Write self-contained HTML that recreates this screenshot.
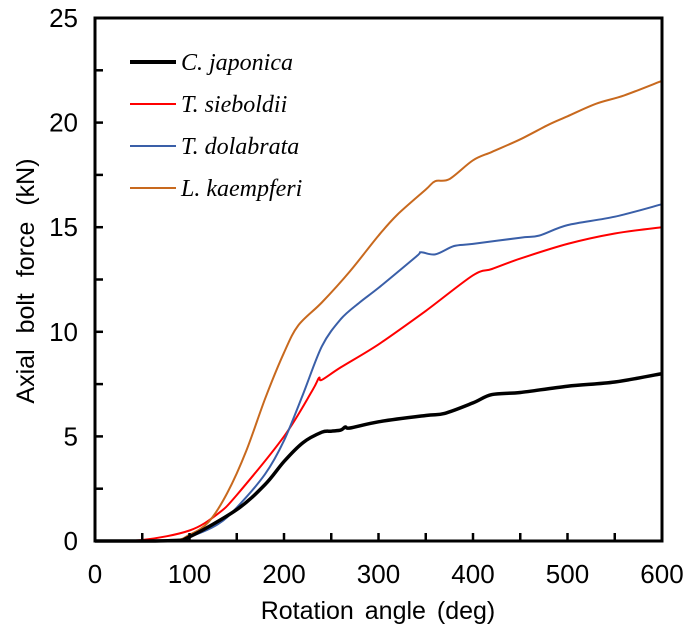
<!DOCTYPE html>
<html><head><meta charset="utf-8"><style>
body{margin:0;background:#fff;width:685px;height:634px;overflow:hidden}
svg text{font-family:"Liberation Sans",sans-serif}
</style></head><body>
<svg id="chart" width="685" height="634" xmlns="http://www.w3.org/2000/svg">
<g id="marks"></g>
<g id="axes"></g>
<text x="378" y="619" font-size="25" text-anchor="middle" word-spacing="4">Rotation angle (deg)</text>
<text transform="translate(34,281) rotate(-90)" font-size="25" text-anchor="middle" word-spacing="9">Axial bolt force (kN)</text>
<g font-size="24" font-style="italic">
<g><line x1="130" y1="62" x2="176" y2="62" stroke="#000" stroke-width="4"/><text x="181" y="70" style="font-family:'Liberation Serif',serif">C. japonica</text></g>
<g><line x1="130" y1="104" x2="176" y2="104" stroke="#ff0000" stroke-width="2"/><text x="181" y="112" style="font-family:'Liberation Serif',serif">T. sieboldii</text></g>
<g><line x1="130" y1="146" x2="176" y2="146" stroke="#3a5fa8" stroke-width="2"/><text x="181" y="154" style="font-family:'Liberation Serif',serif">T. dolabrata</text></g>
<g><line x1="130" y1="188" x2="176" y2="188" stroke="#c8691e" stroke-width="2"/><text x="181" y="196" style="font-family:'Liberation Serif',serif">L. kaempferi</text></g>
</g>
</svg>
<script>
const xTicks=[0,100,200,300,400,500,600];
const yTicks=[0,5,10,15,20,25];
const angleCJ=[0,80,100,150,180,200,220,240,250,260,265,270,300,350,370,400,420,450,500,550,600];
const forceCJ=[0,0.02,0.2,1.5,2.7,3.8,4.7,5.2,5.25,5.3,5.45,5.4,5.7,6.0,6.1,6.6,7.0,7.1,7.4,7.6,8.0];
const angleTS=[0,50,100,130,150,200,230,237,240,260,300,350,400,420,450,500,550,600];
const forceTS=[0,0.05,0.5,1.3,2.2,5.0,7.2,7.8,7.7,8.3,9.4,11.0,12.7,13.0,13.5,14.2,14.7,15.0];
const angleTD=[0,80,100,130,150,180,200,220,240,260,280,300,340,345,360,380,400,450,470,500,550,600];
const forceTD=[0,0.02,0.2,0.8,1.6,3.2,4.8,7.0,9.3,10.6,11.4,12.1,13.6,13.8,13.7,14.1,14.2,14.5,14.6,15.1,15.5,16.1];
const angleLK=[0,80,100,120,140,160,180,200,215,240,270,300,320,350,360,375,400,420,450,480,500,530,560,600];
const forceLK=[0,0.02,0.3,0.9,2.3,4.3,6.8,9.0,10.3,11.4,12.9,14.6,15.6,16.8,17.2,17.3,18.2,18.6,19.2,19.9,20.3,20.9,21.3,22.0];
const X0=95,X1=662,Y0=541,Y1=18;
const sx=v=>X0+(X1-X0)*v/600, sy=v=>Y0-(Y0-Y1)*v/25;
const NS="http://www.w3.org/2000/svg";
const marks=document.getElementById('marks'), axes=document.getElementById('axes');
function mk(tag,attrs,parent){const e=document.createElementNS(NS,tag);for(const k in attrs)e.setAttribute(k,attrs[k]);parent.appendChild(e);return e;}
function smooth(pts){
  let d='M'+pts[0][0].toFixed(1)+','+pts[0][1].toFixed(1);
  for(let i=0;i<pts.length-1;i++){
    const p0=pts[Math.max(i-1,0)],p1=pts[i],p2=pts[i+1],p3=pts[Math.min(i+2,pts.length-1)];
    const t=0.16;
    const c1=[p1[0]+(p2[0]-p0[0])*t,p1[1]+(p2[1]-p0[1])*t];
    const c2=[p2[0]-(p3[0]-p1[0])*t,p2[1]-(p3[1]-p1[1])*t];
    d+='C'+c1.map(v=>v.toFixed(1)).join(',')+' '+c2.map(v=>v.toFixed(1)).join(',')+' '+p2[0].toFixed(1)+','+p2[1].toFixed(1);
  }
  return d;
}
const series=[[angleTS,forceTS,'#ff0000',2,'line-t-sieboldii'],[angleTD,forceTD,'#3a5fa8',2,'line-t-dolabrata'],[angleLK,forceLK,'#c8691e',2,'line-l-kaempferi'],[angleCJ,forceCJ,'#000',3.5,'line-c-japonica']];
series.forEach(s=>{
  const pts=s[0].map((a,i)=>[sx(a),sy(s[1][i])]);
  const p=mk('path',{d:smooth(pts),fill:'none',stroke:s[2],'stroke-width':s[3],'stroke-linejoin':'round'},marks);
  
  
});
const box=mk('rect',{x:X0,y:Y1,width:X1-X0,height:Y0-Y1,fill:'none',stroke:'#000','stroke-width':3},axes);


for(let v=0;v<=600;v+=50){const x=sx(v);mk('line',{x1:x,y1:Y0,x2:x,y2:Y0-8,stroke:'#000','stroke-width':2.5},axes);}
for(let v=0;v<=25;v+=2.5){const y=sy(v);mk('line',{x1:X0,y1:y,x2:X0+8,y2:y,stroke:'#000','stroke-width':2.5},axes);}
xTicks.forEach(v=>{const t=mk('text',{x:sx(v),y:583,'font-size':26,'text-anchor':'middle'},axes);t.textContent=v;
  
  });
yTicks.forEach(v=>{const t=mk('text',{x:78,y:sy(v)+9,'font-size':26,'text-anchor':'end'},axes);t.textContent=v;
  
  });
</script>
</body></html>
